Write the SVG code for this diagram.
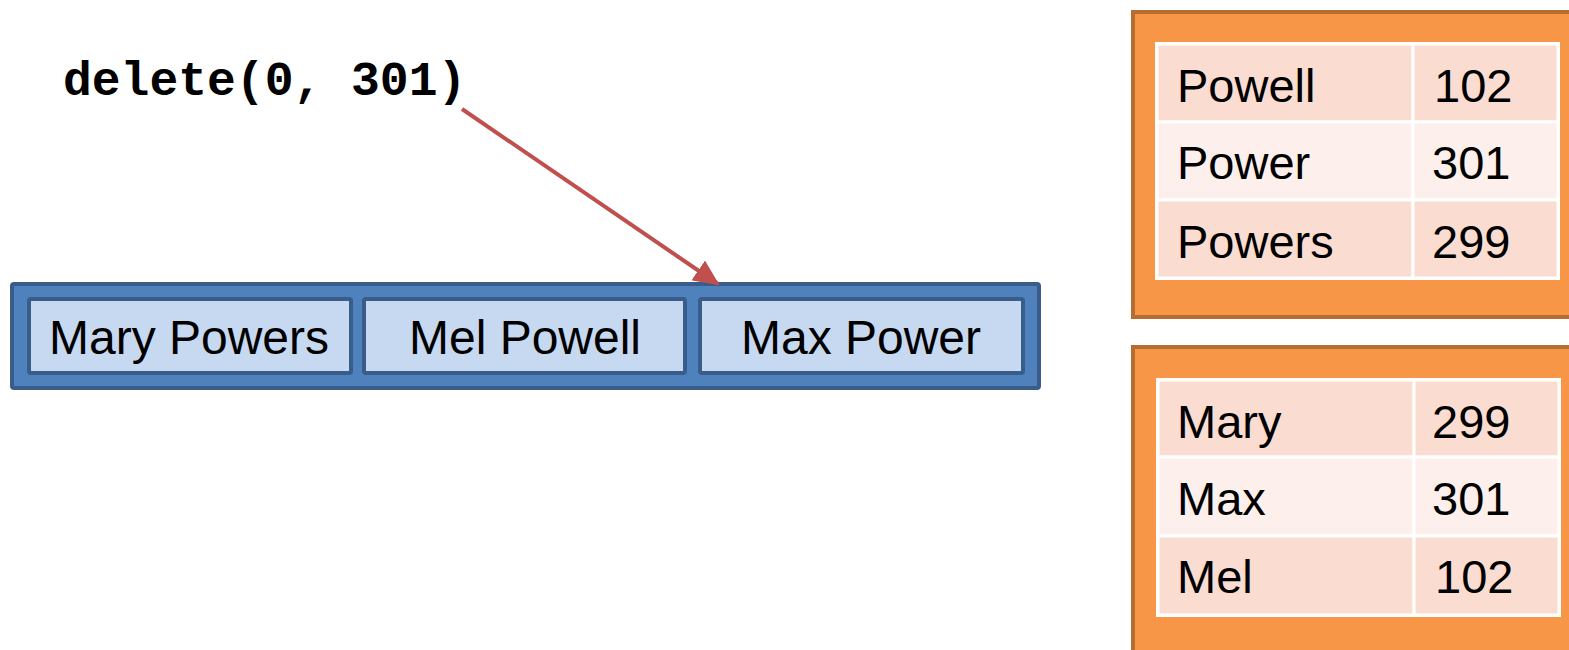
<svg xmlns="http://www.w3.org/2000/svg" width="1569" height="650" viewBox="0 0 1569 650">
<style>
.t{font-family:"Liberation Sans",Arial,sans-serif;font-size:48px;fill:#000}
.tt{font-family:"Liberation Sans",Arial,sans-serif;font-size:47px;fill:#000}
.code{font-family:"Liberation Mono","Courier New",monospace;font-size:48px;font-weight:bold;fill:#000}
.outer{fill:#4F81BD;stroke:#385D8A;stroke-width:4}
.cell{fill:#C6D9F1;stroke:#385D8A;stroke-width:4}
.obox{fill:#F79646;stroke:#B66D31;stroke-width:4}
.rd{fill:#FBDCD0;stroke:#FFFFFF;stroke-width:3}
.rl{fill:#FDEFEB;stroke:#FFFFFF;stroke-width:3}
.conn{stroke:#C0504D;stroke-width:4;fill:none}
</style>
<defs>
<marker id="ah" markerUnits="userSpaceOnUse" markerWidth="26" markerHeight="24" refX="24" refY="12" orient="auto">
<path d="M0,0 L26,12 L0,24 Z" fill="#C0504D"/>
</marker>
</defs>
<rect width="1569" height="650" fill="#FFFFFF"/>

<g id="label">
<text class="code" x="63" y="95">delete(0, 301)</text>
</g>

<g id="array">
<rect class="outer" x="12" y="284" width="1027" height="104" rx="2"/>
<g id="cell1">
<rect class="cell" x="29" y="299" width="322" height="74" rx="2"/>
<text class="t" x="189" y="354" text-anchor="middle">Mary Powers</text>
</g>
<g id="cell2">
<rect class="cell" x="364" y="299" width="321" height="74" rx="2"/>
<text class="t" x="525" y="354" text-anchor="middle">Mel Powell</text>
</g>
<g id="cell3">
<rect class="cell" x="700" y="299" width="323" height="74" rx="2"/>
<text class="t" x="861" y="354" text-anchor="middle">Max Power</text>
</g>
</g>

<g id="table1">
<rect class="obox" x="1133" y="12" width="480" height="305"/>
<rect x="1155" y="42" width="405" height="238" fill="#FFFFFF"/>
<rect class="rd" x="1157" y="44" width="256" height="78"/>
<rect class="rd" x="1413" y="44" width="145" height="78"/>
<rect class="rl" x="1157" y="122" width="256" height="78"/>
<rect class="rl" x="1413" y="122" width="145" height="78"/>
<rect class="rd" x="1157" y="200" width="256" height="78"/>
<rect class="rd" x="1413" y="200" width="145" height="78"/>
<text class="tt" x="1177" y="102">Powell</text>
<text class="tt" x="1434" y="102">102</text>
<text class="tt" x="1177" y="179">Power</text>
<text class="tt" x="1432" y="179">301</text>
<text class="tt" x="1177" y="258">Powers</text>
<text class="tt" x="1432" y="258">299</text>
</g>

<g id="table2">
<rect class="obox" x="1133" y="347" width="480" height="330"/>
<rect x="1156" y="378" width="405" height="239" fill="#FFFFFF"/>
<rect class="rd" x="1158" y="380" width="256" height="77"/>
<rect class="rd" x="1414" y="380" width="145" height="77"/>
<rect class="rl" x="1158" y="457" width="256" height="79"/>
<rect class="rl" x="1414" y="457" width="145" height="79"/>
<rect class="rd" x="1158" y="536" width="256" height="79"/>
<rect class="rd" x="1414" y="536" width="145" height="79"/>
<text class="tt" x="1177" y="438">Mary</text>
<text class="tt" x="1432" y="438">299</text>
<text class="tt" x="1177" y="515">Max</text>
<text class="tt" x="1432" y="515">301</text>
<text class="tt" x="1177" y="593">Mel</text>
<text class="tt" x="1435" y="593">102</text>
</g>

<g id="connectors">
<line class="conn" x1="462" y1="109" x2="718" y2="284" marker-end="url(#ah)"/>
</g>
</svg>
